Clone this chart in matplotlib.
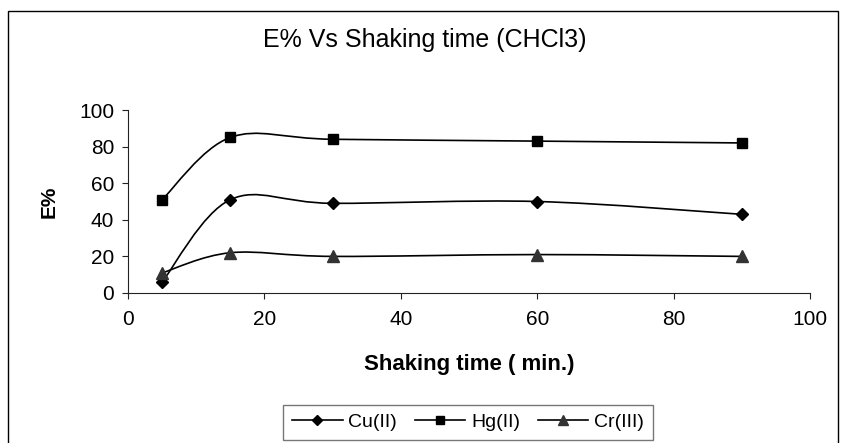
import numpy as np
import matplotlib
matplotlib.use('Agg')
from matplotlib import pyplot as plt
from matplotlib.path import Path
from matplotlib.patches import PathPatch, Rectangle
from matplotlib.lines import Line2D

plt.rcParams['font.family'] = ['Liberation Sans', 'DejaVu Sans']

# shaking time (min.)
times = [5, 15, 30, 60, 90]
cu = [6, 51, 49, 50, 43]
hg = [51, 85, 84, 83, 82]
cr = [11, 22, 20, 21, 20]
names = ['Cu(II)', 'Hg(II)', 'Cr(III)']
markers = ['D', 's', '^']
marker_sizes = [6.5, 7, 8]
marker_colors = ['black', 'black', '#333333']


def smooth_path(x, y):
    '''
    Excel-like smoothed line: cubic Bezier segments through the data
    points with Catmull-Rom control points.
    '''
    pts = np.column_stack([x, y]).astype(float)
    n = len(pts)
    verts = [pts[0]]
    codes = [Path.MOVETO]
    for i in range(n - 1):
        p0 = pts[i - 1] if i > 0 else pts[i]
        p1 = pts[i]
        p2 = pts[i + 1]
        p3 = pts[i + 2] if i + 2 < n else pts[i + 1]
        c1 = p1 + (p2 - p0) / 6.0
        c2 = p2 - (p3 - p1) / 6.0
        verts += [c1, c2, p2]
        codes += [Path.CURVE4] * 3
    return Path(verts, codes)


fig = plt.figure(figsize=(8.45, 4.43), dpi=100)

# outer chart border
fig.patches.append(Rectangle((8 / 845, -0.01), 830 / 845, 1 - 11 / 443 + 0.01,
                             transform=fig.transFigure, fill=False,
                             edgecolor='black', linewidth=1.0))

ax = fig.add_axes([128 / 845, 150 / 443, 682 / 845, 183 / 443])

handles = []
for vals, name, m, ms, mc in zip([cu, hg, cr], names, markers, marker_sizes, marker_colors):
    ax.add_patch(PathPatch(smooth_path(times, vals), fill=False,
                           edgecolor='black', linewidth=1.2))
    ax.plot(times, vals, linestyle='none', marker=m, markersize=ms,
            color=mc, zorder=3)
    handles.append(Line2D([], [], color='black', linewidth=1.2, marker=m,
                          markersize=ms - 1, markerfacecolor=mc,
                          markeredgecolor=mc, label=name))

ax.set_xlim(0, 100)
ax.set_ylim(0, 100)
ax.set_xticks(np.arange(0, 101, 20))
ax.set_yticks(np.arange(0, 101, 20))
ax.spines['top'].set_visible(False)
ax.spines['right'].set_visible(False)
for s in ['left', 'bottom']:
    ax.spines[s].set_linewidth(0.8)
    ax.spines[s].set_color('#222222')
ax.tick_params(axis='both', direction='out', length=4, width=0.8,
               labelsize=15, color='#222222')
ax.tick_params(axis='y', pad=6)
ax.tick_params(axis='x', pad=8)

ax.set_xlabel('Shaking time ( min.)', fontsize=16, fontweight='bold', labelpad=18)
ax.set_ylabel('E%', fontsize=15, fontweight='bold', labelpad=15)

fig.text(0.503, 1 - 40 / 443, 'E% Vs Shaking time (CHCl3)', fontsize=18,
         ha='center', va='center')

leg = fig.legend(handles=handles, loc='lower center', ncol=3,
                 bbox_to_anchor=(468 / 845, -0.015), fontsize=14,
                 frameon=True, fancybox=False, edgecolor='#555555',
                 handlelength=2.6, handletextpad=0.3, columnspacing=0.9,
                 borderpad=0.45)
leg.get_frame().set_linewidth(1.0)

fig.savefig('out.png', dpi=100)
